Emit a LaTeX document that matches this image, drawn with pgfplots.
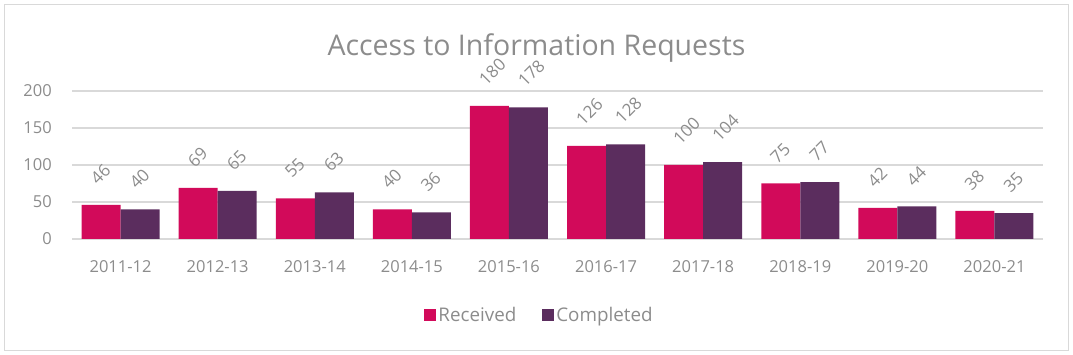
\documentclass[border=0pt]{standalone}
\usepackage{pgfplots}
\pgfplotsset{compat=1.18}
\usepackage{fontspec}
\setmainfont{Open Sans}
\definecolor{rec}{HTML}{D20A5A}
\definecolor{comp}{HTML}{5B2D5E}
\definecolor{txt}{HTML}{8C8C8C}
\definecolor{grd}{HTML}{D9D9D9}
\begin{document}
\begin{tikzpicture}[x=1pt,y=1pt]
\useasboundingbox (0,0) rectangle (1073,355);
\draw[grd, line width=1pt] (4.5,4.5) rectangle (1068.5,350.5);
\node[txt, font=\fontsize{28.5}{32}\selectfont, anchor=base, inner sep=0pt] at (536.5,299) {Access to Information Requests};
\begin{axis}[
  at={(72pt,116pt)}, anchor=south west, scale only axis,
  width=971pt, height=148pt,
  ybar=0pt, bar width=39pt,
  xmin=-0.5, xmax=9.5, ymin=0, ymax=200,
  ytick={0,50,...,200},
  xtick={0,...,9},
  xticklabels={2011-12,2012-13,2013-14,2014-15,2015-16,2016-17,2017-18,2018-19,2019-20,2020-21},
  ymajorgrids, grid style={grd, line width=1.2pt},
  axis line style={draw=none}, major tick length=0pt,
  tick label style={txt, font=\fontsize{16.5}{19}\selectfont, inner sep=0pt},
  yticklabel shift=20pt, xticklabel shift=21pt,
  /pgf/number format/assume math mode=true,
  nodes near coords,
  nodes near coords style={txt, font=\fontsize{17}{20}\selectfont, inner sep=0pt, yshift=19pt, xshift=-3pt, rotate=45, anchor=south west},
  clip=false,
  legend style={at={(axis description cs:0.4815,-0.5135)}, anchor=center, draw=none, fill=none,
    legend columns=2, font=\fontsize{18.8}{22}\selectfont, text=txt,
    /tikz/every even column/.append style={column sep=24pt}},
  legend image code/.code={\fill[#1] (0pt,-6pt) rectangle (12pt,6pt);},
]
\addplot[fill=rec, draw=none] coordinates {(0,46) (1,69) (2,55) (3,40) (4,180) (5,126) (6,100) (7,75) (8,42) (9,38)};
\addplot[fill=comp, draw=none] coordinates {(0,40) (1,65) (2,63) (3,36) (4,178) (5,128) (6,104) (7,77) (8,44) (9,35)};
\legend{Received, Completed}
\end{axis}
\end{tikzpicture}
\end{document}
